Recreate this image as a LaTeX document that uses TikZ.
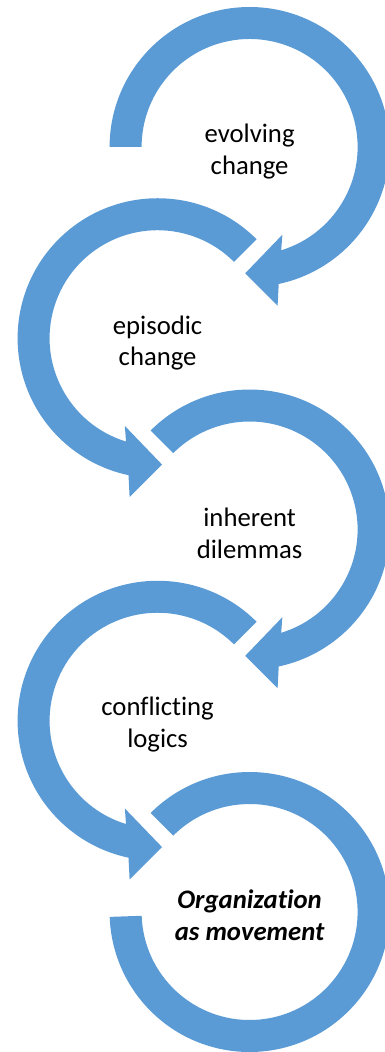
\documentclass[tikz,border=0pt]{standalone}
\usepackage{fontspec}
\setmainfont{Carlito}[Ligatures=NoCommon]
\definecolor{ringblue}{HTML}{5B9BD5}
\begin{document}
\begin{tikzpicture}[ring/.style={fill=ringblue, draw=none},
    label/.style={align=center, font=\fontsize{19}{22.5}\selectfont}]
\clip (0,0) rectangle (9.625,-26.3);
\coordinate (c1) at (6.24,-3.675);
\coordinate (c2) at (3.94,-8.456);
\coordinate (c3) at (6.24,-13.238);
\coordinate (c4) at (3.94,-18.019);
\coordinate (c5) at (6.24,-22.8);
\begin{scope}[shift={(c1)}]
    \fill[ring] (180:3.5) arc[start angle=180, end angle=-78, radius=3.5] -- (-80:4.03) -- (-92:3.16) -- (-69.5:2.34) -- (-73:2.7) arc[start angle=-73, end angle=180, radius=2.7] -- cycle;
\end{scope}
\begin{scope}[shift={(c2)}]
    \fill[ring] (45:3.5) arc[start angle=45, end angle=258, radius=3.5] -- (260:4.03) -- (272:3.16) -- (249.5:2.34) -- (253:2.7) arc[start angle=253, end angle=45, radius=2.7] -- cycle;
\end{scope}
\begin{scope}[shift={(c3)}]
    \fill[ring] (135:3.5) arc[start angle=135, end angle=-78, radius=3.5] -- (-80:4.03) -- (-92:3.16) -- (-69.5:2.34) -- (-73:2.7) arc[start angle=-73, end angle=135, radius=2.7] -- cycle;
\end{scope}
\begin{scope}[shift={(c4)}]
    \fill[ring] (45:3.5) arc[start angle=45, end angle=258, radius=3.5] -- (260:4.03) -- (272:3.16) -- (249.5:2.34) -- (253:2.7) arc[start angle=253, end angle=45, radius=2.7] -- cycle;
\end{scope}
\begin{scope}[shift={(c5)}]
    \fill[ring] (135:3.5) arc[start angle=135, end angle=-178, radius=3.5] -- (-178:2.7) arc[start angle=-178, end angle=135, radius=2.7] -- cycle;
\end{scope}
\node[label] (t1) at ([yshift=-0.12cm]c1) {evolving\\change};
\node[label] (t2) at ([yshift=-0.12cm]c2) {episodic\\change};
\node[label] (t3) at ([yshift=-0.1cm]c3) {inherent\\dilemmas};
\node[label] (t4) at ([yshift=-0.1cm]c4) {conflicting\\logics};
\node[label, font=\fontsize{19}{22.5}\selectfont\bfseries\itshape] (t5) at ([yshift=-0.08cm]c5) {Organization\\as movement};
\end{tikzpicture}
\end{document}
